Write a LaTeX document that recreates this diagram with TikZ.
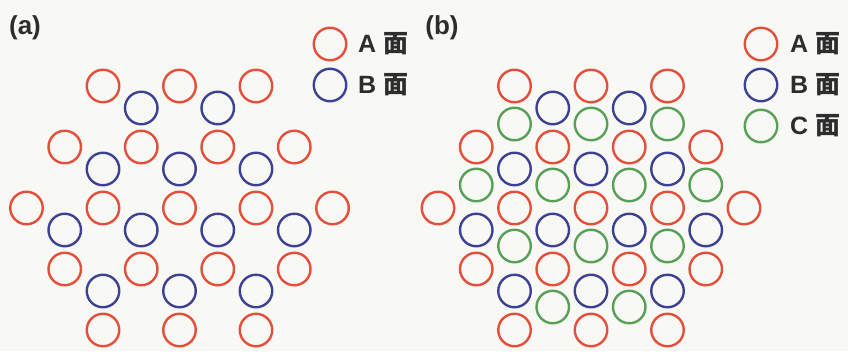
\documentclass[tikz,border=0pt]{standalone}
\usepackage{fontspec}
\setmainfont{Liberation Sans}
\newfontfamily\cjk{Noto Sans CJK SC}
\definecolor{bgc}{RGB}{248,248,245}
\definecolor{cA}{RGB}{228,78,58}
\definecolor{cB}{RGB}{62,64,148}
\definecolor{cC}{RGB}{88,160,88}
\definecolor{txt}{RGB}{45,45,45}
\tikzset{
  atom/.style={circle,draw,line width=2.4pt,minimum size=32.5pt,inner sep=0pt,outer sep=0pt},
  atomA/.style={atom,draw=cA},
  atomB/.style={atom,draw=cB},
  atomC/.style={atom,draw=cC},
  legtext/.style={anchor=west,inner sep=0pt,text=txt,font=\fontsize{25}{30}\selectfont\bfseries},
  paneltext/.style={inner sep=0pt,text=txt,font=\fontsize{26}{30}\selectfont\bfseries}
}
\begin{document}
\begin{tikzpicture}[x=1pt,y=-1pt]
\fill[bgc] (0,0) rectangle (848,351);
\useasboundingbox (0,0) rectangle (848,351);
\def\aa{76.5}
% panel labels
\node[paneltext] (la) at (25,28) {(a)};
\node[paneltext] (lb) at (442,28) {(b)};
% ---------- panel (a) ----------
\def\cx{179.5}
\foreach \r/\n in {0/3,1/4,2/5,3/4,4/3}{
  \foreach \i in {1,...,\n}{
    \node[atomA] (pa-A-\r-\i) at ({\cx+(\i-(\n+1)/2)*\aa},{86+61*\r}) {};
  }
}
\foreach \r/\n in {0/2,1/3,2/4,3/3}{
  \foreach \i in {1,...,\n}{
    \node[atomB] (pa-B-\r-\i) at ({\cx+(\i-(\n+1)/2)*\aa},{108+61*\r}) {};
  }
}
% legend (a)
\node[atomA] (pa-legA) at (330,44) {};
\node[atomB] (pa-legB) at (330,85) {};
\node[legtext] (pa-tA) at (358,44) {A {\cjk 面}};
\node[legtext] (pa-tB) at (358,85) {B {\cjk 面}};
% ---------- panel (b) ----------
\def\cx{591}
\foreach \r/\n in {0/3,1/4,2/5,3/4,4/3}{
  \foreach \i in {1,...,\n}{
    \node[atomA] (pb-A-\r-\i) at ({\cx+(\i-(\n+1)/2)*\aa},{86+61*\r}) {};
  }
}
\foreach \r/\n in {0/2,1/3,2/4,3/3}{
  \foreach \i in {1,...,\n}{
    \node[atomB] (pb-B-\r-\i) at ({\cx+(\i-(\n+1)/2)*\aa},{108+61*\r}) {};
  }
}
\foreach \r/\n in {0/3,1/4,2/3,3/2}{
  \foreach \i in {1,...,\n}{
    \node[atomC] (pb-C-\r-\i) at ({\cx+(\i-(\n+1)/2)*\aa},{124+61*\r}) {};
  }
}
% legend (b)
\node[atomA] (pb-legA) at (761,44) {};
\node[atomB] (pb-legB) at (761,85) {};
\node[atomC] (pb-legC) at (761,126) {};
\node[legtext] (pb-tA) at (790,44) {A {\cjk 面}};
\node[legtext] (pb-tB) at (790,85) {B {\cjk 面}};
\node[legtext] (pb-tC) at (790,126) {C {\cjk 面}};
\end{tikzpicture}
\end{document}
